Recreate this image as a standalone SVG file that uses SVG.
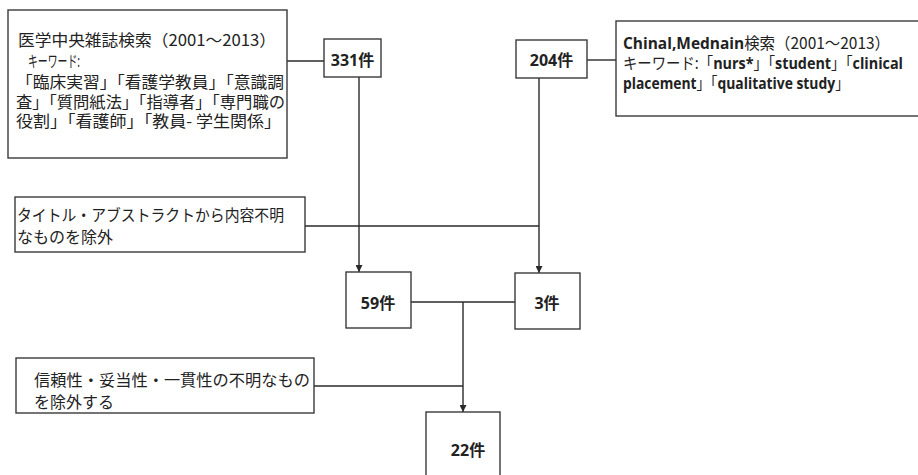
<svg xmlns="http://www.w3.org/2000/svg" width="918" height="475" viewBox="0 0 918 475">
<defs>
<style>
.box{fill:#fff;stroke:#3a3a3a;stroke-width:1.4}
.ln{fill:none;stroke:#2a2a2a;stroke-width:1.4}
.t{font-family:"Noto Sans CJK JP","Noto Sans",sans-serif;font-size:16px;fill:#222}
.b{font-family:"Open Sans","Noto Sans CJK JP",sans-serif;font-weight:bold}
.n{font-family:"Open Sans","Noto Sans CJK JP",sans-serif;font-size:16px;font-weight:bold;fill:#222;text-anchor:middle}
</style>
<marker id="ar" viewBox="0 0 8 8" refX="8" refY="4" markerWidth="7" markerHeight="7" markerUnits="userSpaceOnUse" orient="auto">
<path d="M0,0 L8,4 L0,8 z" fill="#2a2a2a"/>
</marker>
</defs>
<rect width="918" height="475" fill="#fff"/>
<g id="connectors">
<line class="ln" x1="287" y1="61" x2="324" y2="61"/>
<line class="ln" x1="587" y1="60" x2="616" y2="60"/>
<line class="ln" x1="359" y1="77" x2="359" y2="272" marker-end="url(#ar)"/>
<line class="ln" x1="539" y1="78" x2="539" y2="273" marker-end="url(#ar)"/>
<line class="ln" x1="305" y1="226" x2="539" y2="226"/>
<line class="ln" x1="411" y1="302" x2="515" y2="302"/>
<line class="ln" x1="463" y1="302" x2="463" y2="412" marker-end="url(#ar)"/>
<line class="ln" x1="314" y1="386" x2="463" y2="386"/>
</g>
<g id="jamas">
<rect class="box" x="8" y="10" width="279" height="148"/>
<text class="t" x="18" y="46" textLength="258" lengthAdjust="spacingAndGlyphs">医学中央雑誌検索（2001～2013）</text>
<text class="t" x="28" y="67" textLength="52" lengthAdjust="spacingAndGlyphs">キーワード:</text>
<text class="t" x="16" y="88" textLength="268" lengthAdjust="spacingAndGlyphs">「臨床実習」「看護学教員」「意識調</text>
<text class="t" x="16" y="108" textLength="269" lengthAdjust="spacingAndGlyphs">査」「質問紙法」「指導者」「専門職の</text>
<text class="t" x="16" y="127" textLength="265" lengthAdjust="spacingAndGlyphs">役割」「看護師」「教員-  学生関係」</text>
</g>
<g id="n331">
<rect class="box" x="324" y="39" width="57" height="38"/>
<text class="n" x="352.5" y="66">331件</text>
</g>
<g id="n204">
<rect class="box" x="516" y="40" width="71" height="38"/>
<text class="n" x="551.5" y="66">204件</text>
</g>
<g id="cinahl">
<rect class="box" x="616" y="21" width="310" height="95"/>
<text class="t" x="623" y="49" textLength="267" lengthAdjust="spacingAndGlyphs"><tspan class="b">Chinal,Mednain</tspan>検索（2001～2013）</text>
<text class="t" x="623" y="69" textLength="280" lengthAdjust="spacingAndGlyphs">キーワード:「<tspan class="b">nurs*</tspan>」「<tspan class="b">student</tspan>」「<tspan class="b">clinical</tspan></text>
<text class="t" x="623" y="89" textLength="226" lengthAdjust="spacingAndGlyphs"><tspan class="b">placement</tspan>」「<tspan class="b">qualitative study</tspan>」</text>
</g>
<g id="exclude1">
<rect class="box" x="15" y="197" width="290" height="55"/>
<text class="t" x="17" y="221" textLength="267" lengthAdjust="spacingAndGlyphs">タイトル・アブストラクトから内容不明</text>
<text class="t" x="17" y="243">なものを除外</text>
</g>
<g id="n59">
<rect class="box" x="346" y="272" width="65" height="56"/>
<text class="n" x="378" y="309">59件</text>
</g>
<g id="n3">
<rect class="box" x="515" y="273" width="65" height="56"/>
<text class="n" x="547" y="309">3件</text>
</g>
<g id="exclude2">
<rect class="box" x="16" y="358" width="298" height="55"/>
<text class="t" x="34" y="386" textLength="276" lengthAdjust="spacingAndGlyphs">信頼性・妥当性・一貫性の不明なもの</text>
<text class="t" x="34" y="408">を除外する</text>
</g>
<g id="n22">
<rect class="box" x="426" y="412" width="74" height="80"/>
<text class="n" x="468" y="456">22件</text>
</g>
</svg>
